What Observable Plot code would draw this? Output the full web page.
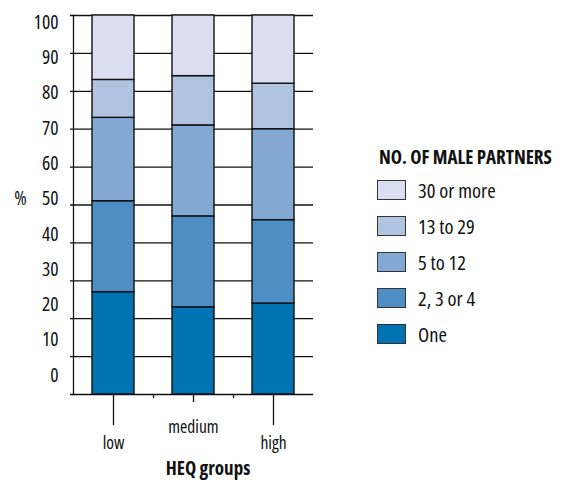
<!DOCTYPE html>
<html>
<head>
<meta charset="utf-8">
<script src="https://cdn.jsdelivr.net/npm/d3@7"></script>
<script src="https://cdn.jsdelivr.net/npm/@observablehq/plot@0.6"></script>
<style>
  html, body { margin: 0; padding: 0; background: #fff; }
  body { font-family: "Open Sans", sans-serif; font-stretch: 75%; color: #111; }
  #wrap { position: relative; width: 570px; height: 489px; }
  #legend { position: absolute; left: 377px; top: 144px; }
  #legend .title { font-weight: bold; font-size: 19px; line-height: 26px; white-space: nowrap; margin-left: 2px; font-stretch: 75%; }
  #legend .row { display: flex; align-items: center; height: 36px; }
  #legend .sw { width: 27px; height: 18px; border: 1px solid #333; box-sizing: content-box; margin-right: 12px; }
  #legend .lab { font-size: 20.5px; white-space: nowrap; font-stretch: 75%; }
</style>
</head>
<body>
<div id="wrap"><div id="chart"></div><div id="legend"></div></div>
<script>
const groups = ["low", "medium", "high"];
const categories = ["One", "2, 3 or 4", "5 to 12", "13 to 29", "30 or more"];
const colors = ["#0173b3", "#4d8ec4", "#82a8d3", "#b0c4e1", "#d9dff0"];
const one = [27, 23, 24];
const twoToFour = [24, 24, 22];
const fiveToTwelve = [22, 24, 24];
const thirteenToTwentyNine = [10, 13, 12];
const thirtyOrMore = [17, 16, 18];
const yTicks = [0, 10, 20, 30, 40, 50, 60, 70, 80, 90, 100];

const series = [one, twoToFour, fiveToTwelve, thirteenToTwentyNine, thirtyOrMore];
const data = [];
categories.forEach((c, i) => groups.forEach((g, j) => data.push({group: g, category: c, value: series[i][j]})));

// the source's tick labels drift slightly from the gridlines
const labelY = d => 5 + d * 0.932;

const chart = Plot.plot({
  width: 570,
  height: 489,
  marginLeft: 70,
  marginRight: 257,
  marginTop: 15,
  marginBottom: 95,
  style: {fontFamily: '"Open Sans", sans-serif', fontStretch: "75%", color: "#111", background: "white", overflow: "visible"},
  x: {domain: groups, paddingInner: 0.48, paddingOuter: 0.24, insetLeft: 3, axis: null},
  y: {domain: [0, 100], axis: null},
  color: {domain: categories, range: colors},
  marks: [
    Plot.ruleY(yTicks, {stroke: "#111", strokeWidth: 1.3}),
    Plot.frame({anchor: "left", dx: 3, stroke: "#111", strokeWidth: 1.3}),
    Plot.barY(data, {x: "group", y: "value", fill: "category", order: categories, stroke: "#111", strokeWidth: 1.4}),
    Plot.axisX({ticks: ["low", "high"], label: null, tickSize: 31, tickPadding: 11, fontSize: 17.5, stroke: "#111", strokeWidth: 1.3, fill: "#111", strokeOpacity: 1}),
    Plot.axisX({ticks: ["medium"], label: null, tickSize: 8, tickPadding: 18, fontSize: 17.5, stroke: "#111", strokeWidth: 1.3, fill: "#111", strokeOpacity: 1}),
    Plot.axisX({ticks: ["low", "medium"], label: null, tickSize: 4, tickFormat: () => "", dx: 40, stroke: "#111", strokeWidth: 1.3, strokeOpacity: 1}),
    Plot.text(yTicks, {y: labelY, text: d => String(d), frameAnchor: "left", dx: -12, textAnchor: "end", fontSize: 19.5, fill: "#111", fontStretch: "92%"}),
    Plot.text(["%"], {y: () => labelY(50), text: d => d, frameAnchor: "left", dx: -50, textAnchor: "middle", fontSize: 19, fill: "#111"}),
    Plot.text(["HEQ groups"], {text: d => d, frameAnchor: "bottom", dy: 80, dx: 16, fontSize: 19, fontWeight: "bold", fill: "#111", fontStretch: "88%"})
  ]
});
document.getElementById("chart").appendChild(chart);

const legend = document.getElementById("legend");
const title = document.createElement("div");
title.className = "title";
title.textContent = "NO. OF MALE PARTNERS";
legend.appendChild(title);
const spacer = document.createElement("div");
spacer.style.height = "2px";
legend.appendChild(spacer);
categories.slice().reverse().forEach(c => {
  const row = document.createElement("div");
  row.className = "row";
  const sw = document.createElement("div");
  sw.className = "sw";
  sw.style.background = chart.scale("color").apply(c);
  const lab = document.createElement("div");
  lab.className = "lab";
  lab.textContent = c;
  row.appendChild(sw);
  row.appendChild(lab);
  legend.appendChild(row);
});
</script>
</body>
</html>
